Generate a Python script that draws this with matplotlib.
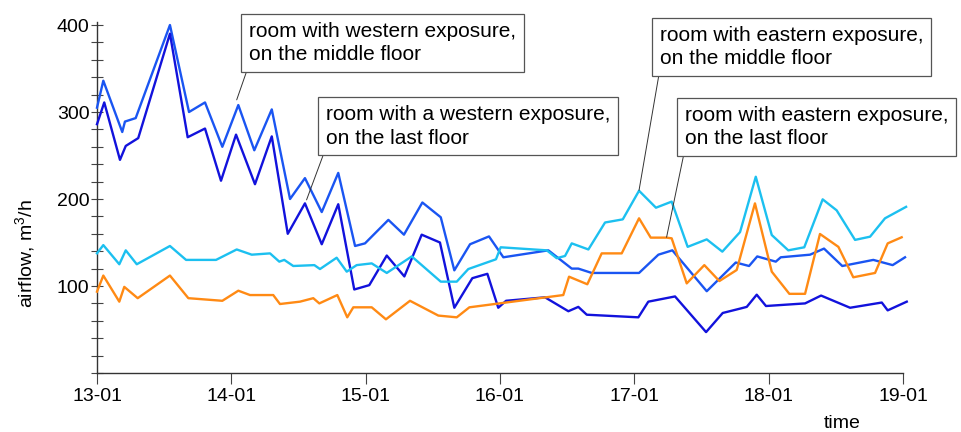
import matplotlib
matplotlib.use("Agg")
import matplotlib.pyplot as plt
import matplotlib.ticker as mticker

plt.rcParams['font.family'] = ['Liberation Sans', 'DejaVu Sans']
plt.rcParams['mathtext.fontset'] = 'custom'
plt.rcParams['mathtext.rm'] = 'Liberation Sans'
plt.rcParams['mathtext.it'] = 'Liberation Sans'

# time in days from 13-01
day_labels = ['13-01', '14-01', '15-01', '16-01', '17-01', '18-01', '19-01']

west_mid_t = [0.0, 0.047, 0.188, 0.208, 0.288, 0.543, 0.685, 0.804, 0.933, 1.052,
              1.171, 1.301, 1.437, 1.548, 1.673, 1.796, 1.921, 1.995, 2.169, 2.285,
              2.422, 2.559, 2.660, 2.777, 2.918, 3.025, 3.360, 3.534, 3.583, 3.683,
              4.035, 4.179, 4.283, 4.539, 4.755, 4.854, 4.915, 5.053, 5.090, 5.308,
              5.412, 5.548, 5.779, 5.923, 6.015]
west_mid = [305, 336, 277, 289, 293, 400, 300, 311, 260, 308,
            256, 303, 200, 224, 185, 230, 146, 149, 176, 159,
            196, 179, 118, 148, 157, 133, 141, 120, 120, 115,
            115, 136, 141, 94, 127, 123, 134, 128, 133, 136,
            143, 123, 130, 124, 133]

west_last_t = [0.0, 0.054, 0.171, 0.214, 0.307, 0.543, 0.675, 0.804, 0.923, 1.035,
               1.176, 1.301, 1.420, 1.548, 1.673, 1.796, 1.915, 2.027, 2.157, 2.288,
               2.417, 2.553, 2.660, 2.794, 2.906, 2.987, 3.045, 3.335, 3.509, 3.583,
               3.646, 4.030, 4.104, 4.303, 4.534, 4.658, 4.787, 4.837, 4.911, 4.980,
               5.271, 5.390, 5.606, 5.842, 5.886, 6.028]
west_last = [286, 311, 245, 261, 270, 390, 271, 281, 221, 274,
             217, 272, 160, 195, 148, 194, 96, 101, 135, 111,
             159, 150, 75, 109, 114, 75, 83, 87, 71, 76,
             67, 64, 82, 88, 47, 69, 74, 76, 90, 77,
             80, 89, 75, 81, 72, 82]

east_mid_t = [0.0, 0.047, 0.166, 0.214, 0.296, 0.543, 0.663, 0.886, 1.040, 1.152,
              1.288, 1.357, 1.394, 1.461, 1.618, 1.660, 1.784, 1.859, 1.933, 2.045,
              2.157, 2.343, 2.559, 2.678, 2.764, 2.970, 3.005, 3.348, 3.422, 3.484,
              3.534, 3.658, 3.782, 3.914, 4.035, 4.161, 4.278, 4.397, 4.539, 4.655,
              4.787, 4.904, 5.023, 5.146, 5.265, 5.402, 5.506, 5.643, 5.755, 5.866,
              6.023]
east_mid = [137.6, 147, 125, 141, 125, 146, 130, 130, 142, 136,
            137.5, 128, 130, 123, 124, 119.5, 132.5, 116.5, 124, 126,
            115, 134, 105, 105, 119.5, 130.7, 144.5, 141, 132, 134.5,
            149, 142, 173, 176.6, 209.5, 190, 197, 145, 153.6, 139.5,
            162, 225.6, 158.6, 141, 144.5, 199.6, 187, 153, 156.7, 177.8,
            191]

east_last_t = [0.0, 0.047, 0.166, 0.203, 0.303, 0.543, 0.680, 0.933, 1.052, 1.139,
               1.312, 1.362, 1.511, 1.610, 1.655, 1.789, 1.863, 1.908, 2.045, 2.151,
               2.330, 2.541, 2.678, 2.772, 3.471, 3.514, 3.650, 3.757, 3.906, 4.035,
               4.122, 4.241, 4.278, 4.390, 4.521, 4.633, 4.762, 4.898, 5.023, 5.154,
               5.271, 5.382, 5.519, 5.630, 5.792, 5.886, 5.990]
east_last = [93.5, 112, 82, 99, 86, 112, 86, 83, 94.6, 89.6,
             89.6, 79.3, 82, 86, 80, 89.6, 64, 75.5, 75.5, 61.7,
             83, 66, 64, 75.5, 89.6, 110.7, 102, 137.5, 137.5, 177.8,
             155.6, 155.6, 154.8, 103, 124, 105.7, 118.4, 195, 116.5, 91,
             91, 159.8, 145, 110, 115, 149, 156]

labels = ['room with western exposure,\non the middle floor',
          'room with a western exposure,\non the last floor',
          'room with eastern exposure,\non the middle floor',
          'room with eastern exposure,\non the last floor']

fig = plt.figure(figsize=(9.62, 4.32), dpi=100)
ax = fig.add_axes([97 / 962, 59 / 432, 806 / 962, 350.6 / 432])

ax.plot(west_mid_t, west_mid, color='#1a55f2', lw=1.7, clip_on=False, zorder=3)
ax.plot(west_last_t, west_last, color='#1212dc', lw=1.7, clip_on=False, zorder=3)
ax.plot(east_mid_t, east_mid, color='#1cc0f0', lw=1.7, clip_on=False, zorder=3)
ax.plot(east_last_t, east_last, color='#ff8a14', lw=1.7, clip_on=False, zorder=3)

ax.set_xlim(0, 6)
ax.set_ylim(0, 403)
ax.set_xticks(range(len(day_labels)))
ax.set_xticklabels(day_labels)
ax.set_yticks([100, 200, 300, 400])
ax.yaxis.set_minor_locator(mticker.MultipleLocator(20))
ax.tick_params(axis='y', which='both', direction='inout', length=9, width=0.8,
               color='#444', labelsize=14, pad=1)
ax.tick_params(axis='x', which='major', direction='out', length=8, width=0.8,
               color='#444', labelsize=14, pad=3)
for s in ['top', 'right']:
    ax.spines[s].set_visible(False)
for s in ['left', 'bottom']:
    ax.spines[s].set_color('#333')
    ax.spines[s].set_linewidth(1.0)

fig.text(25 / 962, 1 - 254 / 432, 'airflow, m$^{3}$/h', rotation=90,
         ha='center', va='center', fontsize=14)
fig.text(842 / 962, 1 - 423 / 432, 'time', ha='center', va='center', fontsize=14)

# annotation boxes: (text left, text top) in figure pixels, point in data
notes = [
    (labels[0], (249, 410), (1.04, 314)),
    (labels[1], (326, 327), (1.56, 199)),
    (labels[2], (660, 406), (4.035, 210)),
    (labels[3], (685, 326), (4.24, 156)),
]
for txt, pos, pt in notes:
    ax.annotate(txt, xy=pt, xycoords='data', xytext=pos, textcoords='figure pixels',
                ha='left', va='top', fontsize=15, linespacing=1.3, zorder=4,
                bbox=dict(boxstyle='square,pad=0.38', fc='white', ec='#555', lw=0.9),
                arrowprops=dict(arrowstyle='-', color='#333', lw=0.7,
                                relpos=(0, 0), shrinkA=0, shrinkB=0))

fig.savefig('out.png', dpi=100)
